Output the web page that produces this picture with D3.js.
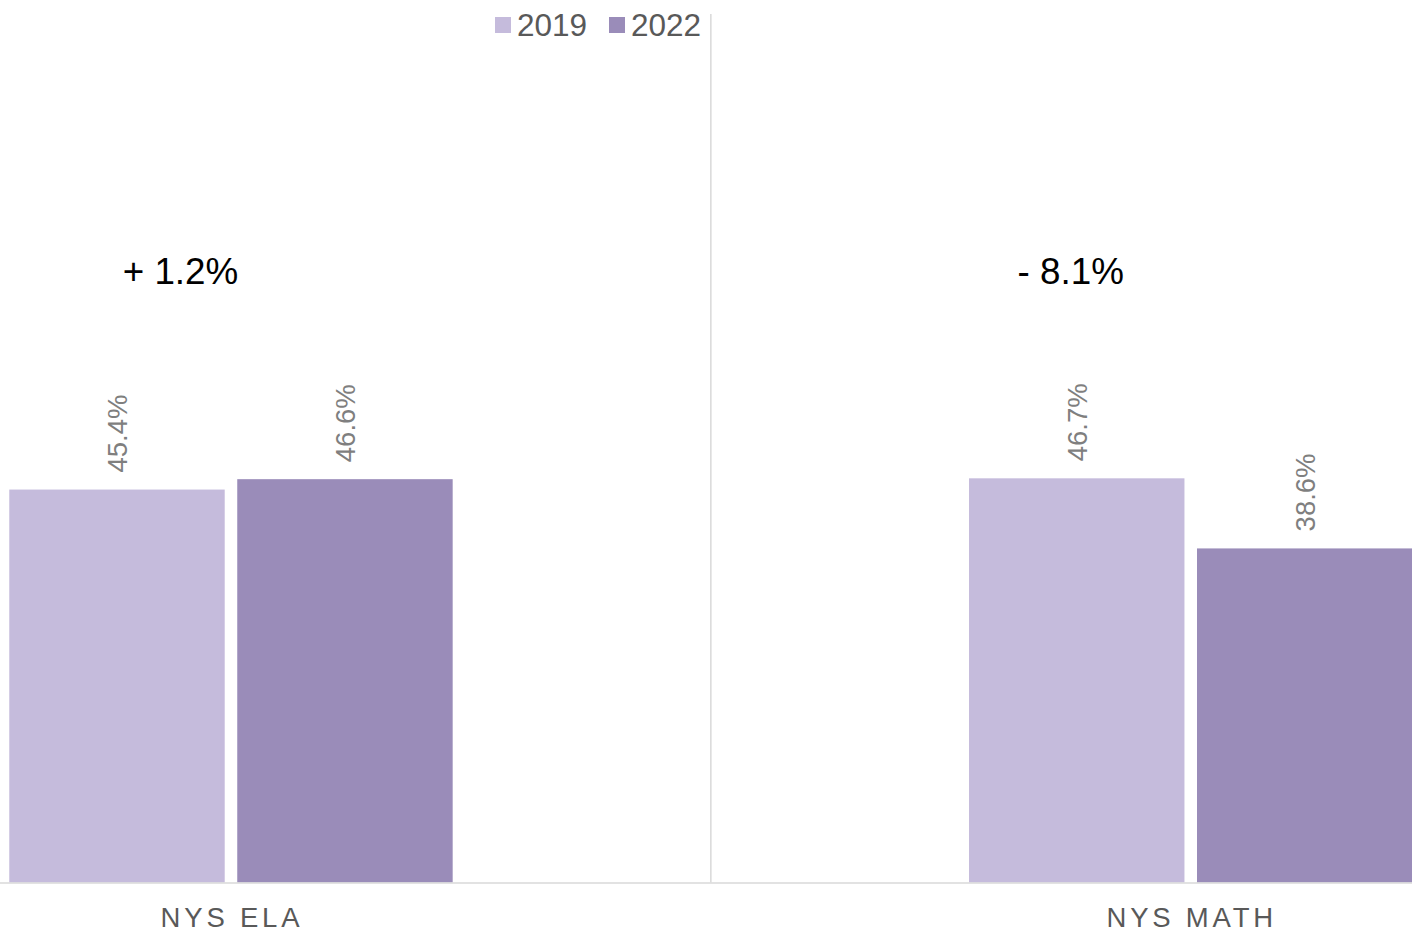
<!DOCTYPE html>
<html>
<head>
<meta charset="utf-8">
<script src="https://cdn.jsdelivr.net/npm/d3@7"></script>
<style>
  body { margin: 0; background: #fff; }
  svg { display: block; font-family: Arial, "Liberation Sans", sans-serif; }
</style>
</head>
<body>
<svg id="chart"></svg>
<script>
// chart data
const categories = ['NYS ELA', 'NYS MATH'];
const years = ['2019', '2022'];
const values2019 = [45.4, 46.7];
const values2022 = [46.6, 38.6];
const changeLabels = ['+ 1.2%', '- 8.1%'];

const config = {
    width: 1412,
    height: 937,
    baseline: 882.5,
    top: 17,
    colours: { '2019': '#c5bbdc', '2022': '#9a8cb9' },
    gridColour: '#d9d9d9',
    labelColour: '#7f7f7f',
    axisText: '#595959'
};

const rows = categories.map((c, i) => ({
    category: c,
    change: changeLabels[i],
    values: [
        { year: '2019', value: values2019[i] },
        { year: '2022', value: values2022[i] }
    ]
}));

const svg = d3.select('#chart')
    .attr('width', config.width)
    .attr('height', config.height);

// the category bands run past the picture edges, as in the original crop
const x0 = d3.scaleBand()
    .domain(categories)
    .range([-248.9, 1670.6])
    .paddingInner(0.538)
    .paddingOuter(0.269);

const x1 = d3.scaleBand()
    .domain(years)
    .range([0, x0.bandwidth()])
    .paddingInner(0.055);

const y = d3.scaleLinear()
    .domain([0, 100])
    .range([config.baseline, config.top]);

// divider between the two categories
const divX = x0.step() + x0.range()[0];
svg.append('line')
    .attr('x1', divX).attr('x2', divX)
    .attr('y1', 14).attr('y2', config.baseline)
    .attr('stroke', config.gridColour)
    .attr('stroke-width', 1.5);

const groups = svg.selectAll('g.group')
    .data(rows)
    .join('g')
    .attr('class', 'group')
    .attr('transform', d => `translate(${x0(d.category)},0)`);

groups.selectAll('rect')
    .data(d => d.values)
    .join('rect')
    .attr('x', d => x1(d.year))
    .attr('width', x1.bandwidth())
    .attr('y', d => y(d.value))
    .attr('height', d => y(0) - y(d.value))
    .attr('fill', d => config.colours[d.year]);

// rotated value labels
groups.selectAll('text.value')
    .data(d => d.values)
    .join('text')
    .attr('class', 'value')
    .attr('transform', d => `translate(${x1(d.year) + x1.bandwidth() / 2 + 10},${y(d.value) - 17}) rotate(-90)`)
    .attr('font-size', '27.5px')
    .attr('fill', config.labelColour)
    .text(d => d.value.toFixed(1) + '%');

// x axis line
svg.append('line')
    .attr('x1', 0).attr('x2', config.width)
    .attr('y1', config.baseline + 0.5).attr('y2', config.baseline + 0.5)
    .attr('stroke', config.gridColour)
    .attr('stroke-width', 1.5);

// category labels
svg.selectAll('text.cat')
    .data(categories)
    .join('text')
    .attr('class', 'cat')
    .attr('x', d => x0(d) + x0.bandwidth() / 2 + 1)
    .attr('y', 927)
    .attr('text-anchor', 'middle')
    .attr('font-size', '27.5px')
    .attr('letter-spacing', '3.8px')
    .attr('fill', config.axisText)
    .text(d => d);

// change annotations
const changeOffset = [-50.5, -120];
svg.selectAll('text.change')
    .data(rows)
    .join('text')
    .attr('class', 'change')
    .attr('x', (d, i) => x0(d.category) + x0.bandwidth() / 2 + changeOffset[i])
    .attr('y', 284)
    .attr('text-anchor', 'middle')
    .attr('font-size', '36.8px')
    .attr('fill', '#000')
    .text(d => d.change);

// legend
const legend = svg.append('g').attr('transform', 'translate(495,0)');
const legendItems = legend.selectAll('g')
    .data(years)
    .join('g')
    .attr('transform', (d, i) => `translate(${i * 114},0)`);

legendItems.append('rect')
    .attr('x', 0).attr('y', 17)
    .attr('width', 16).attr('height', 16)
    .attr('fill', d => config.colours[d]);

legendItems.append('text')
    .attr('x', 22).attr('y', 36)
    .attr('font-size', '31.5px')
    .attr('fill', config.axisText)
    .text(d => d);
</script>
</body>
</html>
